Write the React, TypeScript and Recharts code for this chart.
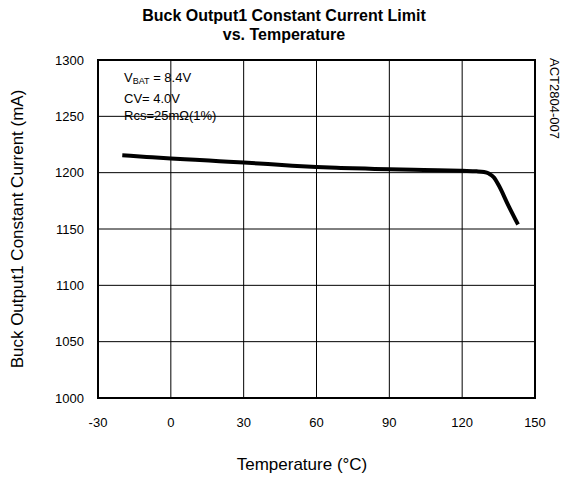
import React from "react";
import {
  LineChart,
  Line,
  XAxis,
  YAxis,
  CartesianGrid,
  ReferenceArea,
} from "recharts";

const temps = [-20, -10, 0, 10, 20, 30, 40, 50, 60, 70, 80, 90, 100, 110, 120, 126, 129, 131, 133, 135, 139, 143];
const currents = [1215.5, 1214, 1212.6, 1211.5, 1210.2, 1209, 1207.6, 1206.2, 1205, 1204.2, 1203.6, 1203, 1202.6, 1202.2, 1201.6, 1201.2, 1200.6, 1199.2, 1196, 1189, 1171, 1154];
const xTicks = [-30, 0, 30, 60, 90, 120, 150];
const yTicks = [1000, 1050, 1100, 1150, 1200, 1250, 1300];

const data = temps.map((t, i) => ({ t, mA: currents[i] }));

const font = "Arial, 'Liberation Sans', sans-serif";
const tickStyle = { fill: "#000", fontSize: 13, fontFamily: font };

export default function App() {
  return (
    <div style={{ position: "absolute", left: 0, top: 0, width: 564, height: 479, background: "#fff", fontFamily: font }}>
      <LineChart
        width={564}
        height={479}
        data={data}
        margin={{ top: 60, right: 29, left: 48, bottom: 51 }}
      >
        <CartesianGrid stroke="#000" strokeWidth={1} />
        <XAxis
          dataKey="t"
          type="number"
          domain={[-30, 150]}
          ticks={xTicks}
          tick={tickStyle}
          tickLine={false}
          axisLine={false}
          tickMargin={14}
          height={30}
        />
        <YAxis
          type="number"
          domain={[1000, 1300]}
          ticks={yTicks}
          tick={tickStyle}
          tickLine={false}
          axisLine={false}
          tickMargin={8}
          width={50}
        />
        <ReferenceArea
          x1={-30}
          x2={150}
          y1={1000}
          y2={1300}
          fill="none"
          stroke="#000"
          strokeWidth={2}
          ifOverflow="visible"
        />
        <Line
          type="monotone"
          dataKey="mA"
          stroke="#000"
          strokeWidth={4}
          dot={false}
          isAnimationActive={false}
        />
      </LineChart>

      {/* title */}
      <div style={{ position: "absolute", left: 84, width: 400, top: 6, textAlign: "center", fontWeight: "bold", fontSize: 16, lineHeight: "19px" }}>
        Buck Output1 Constant Current Limit
        <br />
        vs. Temperature
      </div>

      {/* annotation */}
      <div style={{ position: "absolute", left: 124, top: 69, fontSize: 13, lineHeight: "17px" }}>
        <div>
          V<sub style={{ fontSize: 9, verticalAlign: "-2px" }}>BAT</sub> = 8.4V
        </div>
        <div>CV= 4.0V</div>
        <div>Rcs=25mΩ(1%)</div>
      </div>

      {/* part number */}
      <div
        style={{
          position: "absolute",
          left: 562,
          top: 58,
          fontSize: 13,
          whiteSpace: "nowrap",
          transform: "rotate(90deg)",
          transformOrigin: "0 0",
        }}
      >
        ACT2804-007
      </div>

      {/* y axis title */}
      <div
        style={{
          position: "absolute",
          left: 18,
          top: 229,
          fontSize: 17,
          whiteSpace: "nowrap",
          transform: "translate(-50%, -50%) rotate(-90deg)",
        }}
      >
        Buck Output1 Constant Current (mA)
      </div>

      {/* x axis title */}
      <div style={{ position: "absolute", left: 152, width: 300, top: 455, textAlign: "center", fontSize: 17 }}>
        Temperature (°C)
      </div>
    </div>
  );
}
